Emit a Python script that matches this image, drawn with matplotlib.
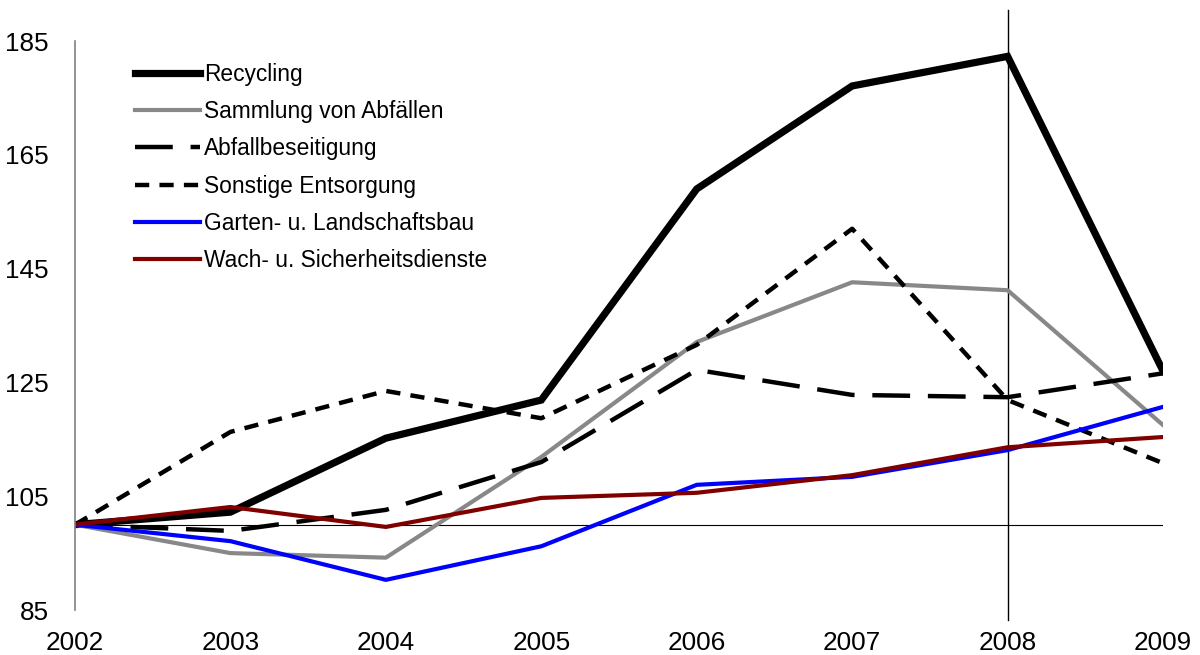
import matplotlib
matplotlib.use("Agg")
import matplotlib.pyplot as plt

plt.rcParams['font.family'] = ['Liberation Sans', 'DejaVu Sans']

years = [2002, 2003, 2004, 2005, 2006, 2007, 2008, 2009]
recycling = [100, 102.2, 115.2, 121.9, 159.0, 177.1, 182.3, 127.0]
sammlung = [100, 95.0, 94.2, 111.9, 132.1, 142.6, 141.2, 117.5]
abfallbeseitigung = [100, 98.9, 102.6, 111.0, 127.2, 122.8, 122.4, 126.6]
sonstige = [100, 116.3, 123.5, 118.7, 131.6, 152.0, 121.9, 110.8]
garten = [100, 97.1, 90.3, 96.2, 107.0, 108.4, 113.1, 120.7]
wach = [100, 103.1, 99.6, 104.7, 105.6, 108.7, 113.6, 115.4]
y_ticks = [85, 105, 125, 145, 165, 185]

fig = plt.figure(figsize=(12, 6.55), dpi=100)
ax = fig.add_axes([0.0625, 0.0687, 0.9067, 0.8687])

ax.plot(years, recycling, color='black', lw=5.2, label='Recycling', solid_joinstyle='miter')
ax.plot(years, sammlung, color='#888888', lw=3.0, label='Sammlung von Abfällen')
ax.plot(years, abfallbeseitigung, color='black', lw=3.2, dashes=(8.5, 4), label='Abfallbeseitigung')
ax.plot(years, sonstige, color='black', lw=3.2, dashes=(3.2, 2.3), label='Sonstige Entsorgung')
ax.plot(years, garten, color='#0000FF', lw=3.0, label='Garten- u. Landschaftsbau')
ax.plot(years, wach, color='#800000', lw=3.0, label='Wach- u. Sicherheitsdienste')

ax.axhline(100, color='black', lw=0.8, zorder=0)
ax.plot([2008, 2008], [-0.018, 1.055], color='black', lw=1.0,
        transform=ax.get_xaxis_transform(), clip_on=False, zorder=0)

ax.set_xlim(2002, 2009)
ax.set_ylim(85, 185)
ax.set_yticks(y_ticks)
ax.set_xticks(years)
ax.tick_params(axis='both', length=0, labelsize=18.8)
ax.tick_params(axis='y', pad=19)
ax.tick_params(axis='x', pad=15)

for s in ['top', 'right', 'bottom']:
    ax.spines[s].set_visible(False)
ax.spines['left'].set_color('#808080')
ax.spines['left'].set_linewidth(1.2)

leg = ax.legend(loc='upper left', bbox_to_anchor=(0.036, 0.997), frameon=False,
                fontsize=16.4, handlelength=2.85, handletextpad=0.2, labelspacing=0.62)

fig.savefig('out.png', dpi=100)
